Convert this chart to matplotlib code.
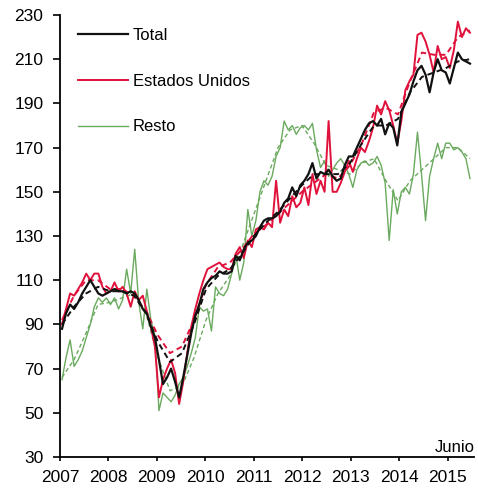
import numpy as np
import matplotlib
matplotlib.use("Agg")
import matplotlib.pyplot as plt

plt.rcParams['font.family'] = ['Liberation Sans', 'DejaVu Sans']

# Monthly values, Jan 2007 .. Jun 2015
total = [88, 95, 99, 97, 100, 104, 107, 110, 107, 104, 103, 104,
         105, 106, 105, 105, 104, 105, 104, 101, 97, 95, 89, 84,
         74, 63, 66, 70, 64, 57, 66, 76, 86, 94, 99, 106,
         109, 111, 112, 114, 113, 113, 114, 121, 119, 124, 127, 128,
         130, 134, 137, 138, 138, 139, 141, 145, 147, 152, 148, 153,
         155, 158, 163, 156, 159, 158, 160, 157, 155, 156, 162, 166,
         166, 170, 174, 178, 181, 182, 180, 183, 176, 181, 179, 171,
         186, 190, 194, 200, 205, 207, 203, 195, 204, 210, 205, 204,
         199, 206, 213, 210, 209, 208]

eeuu = [90, 97, 104, 103, 106, 109, 113, 110, 113, 113, 107, 104,
        105, 109, 105, 107, 104, 98, 105, 101, 103, 96, 89, 80,
        57, 65, 70, 74, 68, 54, 64, 77, 89, 97, 104, 110,
        115, 116, 117, 118, 116, 115, 115, 122, 125, 120, 128, 125,
        133, 134, 133, 136, 134, 155, 136, 142, 139, 148, 143, 145,
        152, 144, 158, 149, 155, 150, 182, 150, 150, 154, 159, 164,
        159, 165, 170, 168, 173, 179, 189, 185, 191, 187, 180, 172,
        182, 196, 200, 203, 221, 222, 218, 212, 204, 216, 210, 211,
        206, 214, 227, 220, 224, 222]

resto = [65, 75, 83, 71, 74, 78, 84, 90, 98, 102, 100, 102,
         99, 102, 97, 101, 115, 104, 124, 100, 88, 106, 92, 85,
         51, 59, 57, 55, 58, 63, 66, 71, 77, 84, 98, 96,
         97, 87, 107, 104, 103, 106, 113, 122, 110, 118, 142, 130,
         137, 150, 155, 153, 157, 166, 170, 182, 178, 180, 176, 179,
         180, 178, 181, 169, 161, 164, 157, 160, 163, 165, 162, 158,
         152, 160, 163, 164, 162, 163, 166, 162, 154, 128, 151, 140,
         150, 152, 149, 158, 177, 158, 137, 157, 165, 172, 165, 172,
         172, 169, 170, 168, 165, 156]

# Quarterly trend values (dashed)
total_trend = [90, 98, 104, 107, 105, 105, 103, 95, 82, 73, 77, 90, 106, 112, 115, 122,
               130, 136, 141, 147, 153, 158, 158, 158, 163, 172, 180, 180, 183, 195, 202,
               204, 206, 209, 210]
eeuu_trend = [92, 103, 110, 110, 106, 106, 103, 96, 85, 77, 80, 92, 108, 116, 118, 124,
              131, 135, 140, 145, 150, 154, 158, 156, 162, 172, 186, 188, 185, 200, 213,
              212, 212, 220, 223]
resto_trend = [66, 74, 86, 99, 100, 102, 104, 95, 75, 60, 62, 75, 92, 104, 112, 125,
               140, 155, 170, 178, 180, 172, 162, 160, 158, 163, 165, 155, 146, 155, 160,
               165, 170, 170, 165]

years = [2007, 2008, 2009, 2010, 2011, 2012, 2013, 2014, 2015]
yticks = list(range(30, 231, 20))

n = len(total)
t = 2007 + (np.arange(n) + 0.5) / 12.0
tq = np.linspace(t[0], t[-1], len(total_trend))

c_black = '#111111'
c_red = '#e0123c'
c_green = '#6aaa5e'

fig = plt.figure(figsize=(4.78, 4.92), dpi=100)
ax = fig.add_axes([0.1255, 0.0711, 0.866, 0.8984])

ax.plot(tq, resto_trend, color=c_green, lw=1.0, ls=(0, (3, 2)))
ax.plot(t, resto, color=c_green, lw=1.0, label='Resto')
ax.plot(tq, eeuu_trend, color=c_red, lw=1.4, ls=(0, (3, 2)))
ax.plot(t, eeuu, color=c_red, lw=1.4, label='Estados Unidos')
ax.plot(tq, total_trend, color=c_black, lw=1.4, ls=(0, (3, 2)))
ax.plot(t, total, color=c_black, lw=1.6, label='Total')

ax.set_xlim(2007, 2015.54)
ax.set_ylim(30, 230)
ax.set_yticks(yticks)
ax.set_xticks(years)
ax.set_xticklabels([str(y) for y in years])
for s in ['top', 'right']:
    ax.spines[s].set_visible(False)
for s in ['left', 'bottom']:
    ax.spines[s].set_linewidth(1.3)
ax.tick_params(axis='y', direction='out', length=5, width=1.2, labelsize=12.5, pad=7)
ax.tick_params(axis='x', direction='out', length=3, width=1.2, labelsize=12.5, pad=6)

h, l = ax.get_legend_handles_labels()
order = [2, 1, 0]
leg = ax.legend([h[i] for i in order], [l[i] for i in order], loc='upper left',
                bbox_to_anchor=(0.007, 1.005), frameon=False, fontsize=12,
                handlelength=3.0, handletextpad=0.3, labelspacing=1.85)

ax.text(1.002, 0.004, 'Junio', fontsize=12, ha='right', va='bottom', transform=ax.transAxes)

fig.savefig('out.png', dpi=100)
